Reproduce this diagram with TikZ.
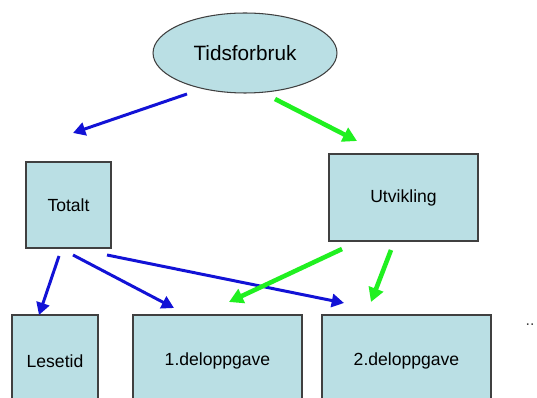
\documentclass[tikz,border=0pt]{standalone}
\usepackage{fontspec}
\setmainfont{Liberation Sans}
\usetikzlibrary{shapes.geometric,arrows.meta}

\definecolor{boksfarge}{RGB}{186,223,228}
\definecolor{kantfarge}{RGB}{64,64,64}
\definecolor{blaa}{RGB}{18,18,214}
\definecolor{gronn}{RGB}{32,240,32}

\tikzset{
  boks/.style={draw=kantfarge,fill=boksfarge,line width=0.6pt,inner sep=0pt,
    font=\fontsize{10}{12}\selectfont},
  sirkel/.style={boks,ellipse,font=\fontsize{11.8}{14}\selectfont},
  blaapil/.style={draw=blaa,line width=1.7pt,-{Triangle[length=7pt,width=7.5pt]}},
  gronnpil/.style={draw=gronn,line width=2.6pt,-{Triangle[length=8pt,width=8.5pt]}}
}

\begin{document}
\begin{tikzpicture}[x=0.02cm,y=-0.02cm]
\clip (0,0) rectangle (537,398);
\fill[white] (0,0) rectangle (537,398);

\node[sirkel,minimum width=3.68cm,minimum height=1.6cm] (tids) at (245,53) {Tidsforbruk};

\node[boks,minimum width=1.7cm,minimum height=1.72cm] (totalt) at (68.5,205) {Totalt};
\node[boks,minimum width=2.98cm,minimum height=1.74cm] (utvikling) at (403.5,197.5) {Utvikling};

\node[boks,minimum width=1.72cm,minimum height=1.84cm] (lesetid) at (55,361) {Lesetid};
\node[boks,minimum width=3.38cm,minimum height=1.84cm] (del1) at (217.5,361) {1.deloppgave};
\node[boks,minimum width=3.38cm,minimum height=1.84cm] (del2) at (406.5,361) {2.deloppgave};

\node[text=kantfarge,font=\fontsize{9}{10}\selectfont] (prikker) at (530,325) {..};

% ender for pilene
\coordinate (tidsV) at (187,94);
\coordinate (tidsH) at (275,99);
\coordinate (totaltInn) at (73,133);
\coordinate (utviklingInn) at (357,141);

\coordinate (totaltA) at (59,256);
\coordinate (totaltB) at (73,255);
\coordinate (totaltC) at (107,255);
\coordinate (utviklingA) at (342,249);
\coordinate (utviklingB) at (391,250);

\coordinate (lesetidInn) at (39,315);
\coordinate (del1Blaa) at (174,308);
\coordinate (del1Gronn) at (229,302);
\coordinate (del2Blaa) at (344,303);
\coordinate (del2Gronn) at (371,302);

\draw[blaapil] (tidsV) -- (totaltInn);
\draw[gronnpil] (tidsH) -- (utviklingInn);

\draw[blaapil] (totaltA) -- (lesetidInn);
\draw[blaapil] (totaltB) -- (del1Blaa);
\draw[blaapil] (totaltC) -- (del2Blaa);

\draw[gronnpil] (utviklingA) -- (del1Gronn);
\draw[gronnpil] (utviklingB) -- (del2Gronn);

\end{tikzpicture}
\end{document}
